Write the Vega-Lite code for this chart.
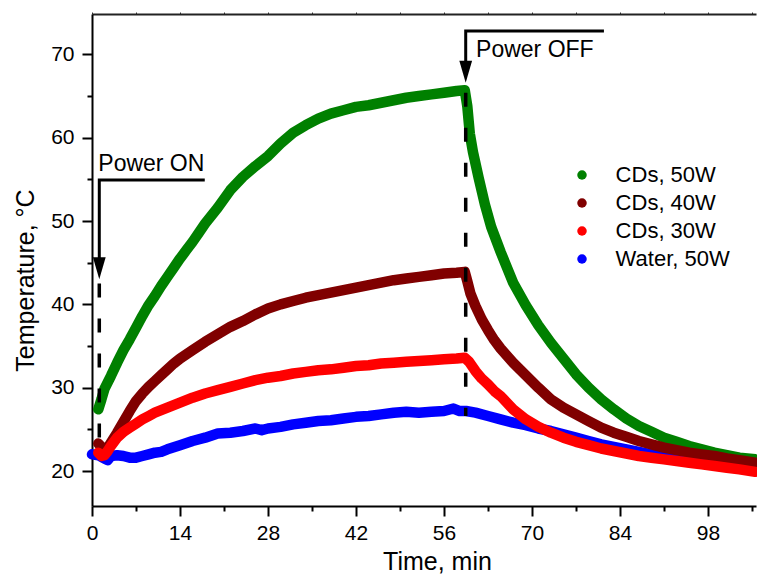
{
  "$schema": "https://vega.github.io/schema/vega-lite/v6.json",
  "width": 664,
  "height": 492,
  "autosize": {"type": "none"},
  "padding": {"left": 92, "top": 14, "right": 1, "bottom": 68},
  "config": {
    "view": {"stroke": null},
    "font": "Liberation Sans",
    "axis": {"grid": false, "labelFont": "Liberation Sans", "labelFontSize": 21, "titleFont": "Liberation Sans"},
    "legend": {"labelFont": "Liberation Sans", "labelFontSize": 22}
  },
  "datasets": {
    "series": [
      {"s": "Water, 50W", "time": 0, "temp": 22.0}, {"s": "Water, 50W", "time": 1, "temp": 21.9}, {"s": "Water, 50W", "time": 2, "temp": 21.5}, {"s": "Water, 50W", "time": 2.5, "temp": 21.3}, {"s": "Water, 50W", "time": 3, "temp": 21.8}, {"s": "Water, 50W", "time": 4, "temp": 21.9}, {"s": "Water, 50W", "time": 5, "temp": 21.8}, {"s": "Water, 50W", "time": 6, "temp": 21.6}, {"s": "Water, 50W", "time": 7, "temp": 21.6}, {"s": "Water, 50W", "time": 8, "temp": 21.8}, {"s": "Water, 50W", "time": 9, "temp": 22.0}, {"s": "Water, 50W", "time": 10, "temp": 22.2}, {"s": "Water, 50W", "time": 11, "temp": 22.3}, {"s": "Water, 50W", "time": 12, "temp": 22.6}, {"s": "Water, 50W", "time": 14, "temp": 23.1}, {"s": "Water, 50W", "time": 16, "temp": 23.6}, {"s": "Water, 50W", "time": 18, "temp": 24.0}, {"s": "Water, 50W", "time": 20, "temp": 24.5}, {"s": "Water, 50W", "time": 22, "temp": 24.6}, {"s": "Water, 50W", "time": 24, "temp": 24.8}, {"s": "Water, 50W", "time": 26, "temp": 25.1}, {"s": "Water, 50W", "time": 27, "temp": 24.9}, {"s": "Water, 50W", "time": 28, "temp": 25.1}, {"s": "Water, 50W", "time": 30, "temp": 25.3}, {"s": "Water, 50W", "time": 32, "temp": 25.6}, {"s": "Water, 50W", "time": 34, "temp": 25.8}, {"s": "Water, 50W", "time": 36, "temp": 26.0}, {"s": "Water, 50W", "time": 38, "temp": 26.1}, {"s": "Water, 50W", "time": 40, "temp": 26.3}, {"s": "Water, 50W", "time": 42, "temp": 26.5}, {"s": "Water, 50W", "time": 44, "temp": 26.6}, {"s": "Water, 50W", "time": 46, "temp": 26.8}, {"s": "Water, 50W", "time": 48, "temp": 27.0}, {"s": "Water, 50W", "time": 50, "temp": 27.1}, {"s": "Water, 50W", "time": 52, "temp": 27.0}, {"s": "Water, 50W", "time": 54, "temp": 27.1}, {"s": "Water, 50W", "time": 56, "temp": 27.2}, {"s": "Water, 50W", "time": 57.5, "temp": 27.5}, {"s": "Water, 50W", "time": 58.5, "temp": 27.2}, {"s": "Water, 50W", "time": 59.5, "temp": 27.2}, {"s": "Water, 50W", "time": 61, "temp": 27.0}, {"s": "Water, 50W", "time": 63, "temp": 26.6}, {"s": "Water, 50W", "time": 65, "temp": 26.2}, {"s": "Water, 50W", "time": 67, "temp": 25.8}, {"s": "Water, 50W", "time": 69, "temp": 25.5}, {"s": "Water, 50W", "time": 71, "temp": 25.1}, {"s": "Water, 50W", "time": 73, "temp": 24.8}, {"s": "Water, 50W", "time": 75, "temp": 24.4}, {"s": "Water, 50W", "time": 77, "temp": 24.0}, {"s": "Water, 50W", "time": 79, "temp": 23.6}, {"s": "Water, 50W", "time": 81, "temp": 23.2}, {"s": "Water, 50W", "time": 83, "temp": 22.9}, {"s": "Water, 50W", "time": 85, "temp": 22.6}, {"s": "Water, 50W", "time": 87, "temp": 22.3}, {"s": "Water, 50W", "time": 89, "temp": 22.0}, {"s": "Water, 50W", "time": 91, "temp": 21.8}, {"s": "Water, 50W", "time": 93, "temp": 21.7}, {"s": "Water, 50W", "time": 95, "temp": 21.6}, {"s": "Water, 50W", "time": 97, "temp": 21.4}, {"s": "Water, 50W", "time": 99, "temp": 21.2}, {"s": "Water, 50W", "time": 101, "temp": 21.0}, {"s": "Water, 50W", "time": 103, "temp": 20.9}, {"s": "Water, 50W", "time": 105.5, "temp": 20.7},

      {"s": "CDs, 50W", "time": 1, "temp": 27.4}, {"s": "CDs, 50W", "time": 1.5, "temp": 28.6}, {"s": "CDs, 50W", "time": 2, "temp": 29.9}, {"s": "CDs, 50W", "time": 2.4, "temp": 30.5}, {"s": "CDs, 50W", "time": 3, "temp": 31.4}, {"s": "CDs, 50W", "time": 4, "temp": 33.0}, {"s": "CDs, 50W", "time": 5, "temp": 34.5}, {"s": "CDs, 50W", "time": 6, "temp": 35.8}, {"s": "CDs, 50W", "time": 7, "temp": 37.2}, {"s": "CDs, 50W", "time": 8, "temp": 38.6}, {"s": "CDs, 50W", "time": 9, "temp": 39.9}, {"s": "CDs, 50W", "time": 10, "temp": 41.0}, {"s": "CDs, 50W", "time": 11, "temp": 42.2}, {"s": "CDs, 50W", "time": 12, "temp": 43.3}, {"s": "CDs, 50W", "time": 13, "temp": 44.4}, {"s": "CDs, 50W", "time": 14, "temp": 45.5}, {"s": "CDs, 50W", "time": 15, "temp": 46.5}, {"s": "CDs, 50W", "time": 16, "temp": 47.5}, {"s": "CDs, 50W", "time": 17, "temp": 48.6}, {"s": "CDs, 50W", "time": 18, "temp": 49.7}, {"s": "CDs, 50W", "time": 20, "temp": 51.6}, {"s": "CDs, 50W", "time": 22, "temp": 53.7}, {"s": "CDs, 50W", "time": 24, "temp": 55.3}, {"s": "CDs, 50W", "time": 26, "temp": 56.6}, {"s": "CDs, 50W", "time": 28, "temp": 57.8}, {"s": "CDs, 50W", "time": 30, "temp": 59.3}, {"s": "CDs, 50W", "time": 32, "temp": 60.6}, {"s": "CDs, 50W", "time": 34, "temp": 61.5}, {"s": "CDs, 50W", "time": 36, "temp": 62.3}, {"s": "CDs, 50W", "time": 38, "temp": 62.9}, {"s": "CDs, 50W", "time": 40, "temp": 63.3}, {"s": "CDs, 50W", "time": 42, "temp": 63.7}, {"s": "CDs, 50W", "time": 44, "temp": 63.9}, {"s": "CDs, 50W", "time": 46, "temp": 64.2}, {"s": "CDs, 50W", "time": 48, "temp": 64.5}, {"s": "CDs, 50W", "time": 50, "temp": 64.8}, {"s": "CDs, 50W", "time": 52, "temp": 65.0}, {"s": "CDs, 50W", "time": 54, "temp": 65.2}, {"s": "CDs, 50W", "time": 56, "temp": 65.4}, {"s": "CDs, 50W", "time": 58, "temp": 65.6}, {"s": "CDs, 50W", "time": 59.3, "temp": 65.7}, {"s": "CDs, 50W", "time": 59.7, "temp": 63.8}, {"s": "CDs, 50W", "time": 60.1, "temp": 60.5}, {"s": "CDs, 50W", "time": 60.6, "temp": 58.3}, {"s": "CDs, 50W", "time": 61.5, "temp": 55.2}, {"s": "CDs, 50W", "time": 62.5, "temp": 52.0}, {"s": "CDs, 50W", "time": 63.5, "temp": 49.3}, {"s": "CDs, 50W", "time": 65, "temp": 46.3}, {"s": "CDs, 50W", "time": 67, "temp": 42.6}, {"s": "CDs, 50W", "time": 69, "temp": 39.9}, {"s": "CDs, 50W", "time": 71, "temp": 37.5}, {"s": "CDs, 50W", "time": 73, "temp": 35.4}, {"s": "CDs, 50W", "time": 75, "temp": 33.5}, {"s": "CDs, 50W", "time": 77, "temp": 31.6}, {"s": "CDs, 50W", "time": 79, "temp": 30.0}, {"s": "CDs, 50W", "time": 81, "temp": 28.6}, {"s": "CDs, 50W", "time": 83, "temp": 27.4}, {"s": "CDs, 50W", "time": 85, "temp": 26.3}, {"s": "CDs, 50W", "time": 87, "temp": 25.4}, {"s": "CDs, 50W", "time": 89, "temp": 24.7}, {"s": "CDs, 50W", "time": 91, "temp": 24.0}, {"s": "CDs, 50W", "time": 93, "temp": 23.5}, {"s": "CDs, 50W", "time": 95, "temp": 23.0}, {"s": "CDs, 50W", "time": 97, "temp": 22.6}, {"s": "CDs, 50W", "time": 99, "temp": 22.2}, {"s": "CDs, 50W", "time": 101, "temp": 21.9}, {"s": "CDs, 50W", "time": 103, "temp": 21.6}, {"s": "CDs, 50W", "time": 105.5, "temp": 21.4},

      {"s": "CDs, 40W", "time": 1, "temp": 23.3}, {"s": "CDs, 40W", "time": 1.5, "temp": 22.9}, {"s": "CDs, 40W", "time": 2, "temp": 22.7}, {"s": "CDs, 40W", "time": 2.5, "temp": 22.8}, {"s": "CDs, 40W", "time": 3, "temp": 23.4}, {"s": "CDs, 40W", "time": 4, "temp": 24.6}, {"s": "CDs, 40W", "time": 5, "temp": 25.9}, {"s": "CDs, 40W", "time": 6, "temp": 27.2}, {"s": "CDs, 40W", "time": 7, "temp": 28.4}, {"s": "CDs, 40W", "time": 8, "temp": 29.3}, {"s": "CDs, 40W", "time": 9, "temp": 30.1}, {"s": "CDs, 40W", "time": 10, "temp": 30.8}, {"s": "CDs, 40W", "time": 11, "temp": 31.5}, {"s": "CDs, 40W", "time": 12, "temp": 32.2}, {"s": "CDs, 40W", "time": 13, "temp": 32.9}, {"s": "CDs, 40W", "time": 14, "temp": 33.5}, {"s": "CDs, 40W", "time": 16, "temp": 34.5}, {"s": "CDs, 40W", "time": 18, "temp": 35.5}, {"s": "CDs, 40W", "time": 20, "temp": 36.4}, {"s": "CDs, 40W", "time": 22, "temp": 37.3}, {"s": "CDs, 40W", "time": 24, "temp": 38.0}, {"s": "CDs, 40W", "time": 26, "temp": 38.8}, {"s": "CDs, 40W", "time": 28, "temp": 39.5}, {"s": "CDs, 40W", "time": 30, "temp": 40.0}, {"s": "CDs, 40W", "time": 32, "temp": 40.4}, {"s": "CDs, 40W", "time": 34, "temp": 40.8}, {"s": "CDs, 40W", "time": 36, "temp": 41.1}, {"s": "CDs, 40W", "time": 38, "temp": 41.4}, {"s": "CDs, 40W", "time": 40, "temp": 41.7}, {"s": "CDs, 40W", "time": 42, "temp": 42.0}, {"s": "CDs, 40W", "time": 44, "temp": 42.3}, {"s": "CDs, 40W", "time": 46, "temp": 42.6}, {"s": "CDs, 40W", "time": 48, "temp": 42.9}, {"s": "CDs, 40W", "time": 50, "temp": 43.1}, {"s": "CDs, 40W", "time": 52, "temp": 43.3}, {"s": "CDs, 40W", "time": 54, "temp": 43.5}, {"s": "CDs, 40W", "time": 56, "temp": 43.7}, {"s": "CDs, 40W", "time": 58, "temp": 43.8}, {"s": "CDs, 40W", "time": 59.3, "temp": 43.9}, {"s": "CDs, 40W", "time": 59.7, "temp": 42.8}, {"s": "CDs, 40W", "time": 60.2, "temp": 41.3}, {"s": "CDs, 40W", "time": 61, "temp": 39.8}, {"s": "CDs, 40W", "time": 62, "temp": 38.2}, {"s": "CDs, 40W", "time": 63, "temp": 36.9}, {"s": "CDs, 40W", "time": 64, "temp": 35.7}, {"s": "CDs, 40W", "time": 65, "temp": 34.7}, {"s": "CDs, 40W", "time": 67, "temp": 33.0}, {"s": "CDs, 40W", "time": 69, "temp": 31.5}, {"s": "CDs, 40W", "time": 71, "temp": 30.0}, {"s": "CDs, 40W", "time": 73, "temp": 28.6}, {"s": "CDs, 40W", "time": 75, "temp": 27.6}, {"s": "CDs, 40W", "time": 77, "temp": 26.8}, {"s": "CDs, 40W", "time": 79, "temp": 26.0}, {"s": "CDs, 40W", "time": 81, "temp": 25.2}, {"s": "CDs, 40W", "time": 83, "temp": 24.6}, {"s": "CDs, 40W", "time": 85, "temp": 24.1}, {"s": "CDs, 40W", "time": 87, "temp": 23.6}, {"s": "CDs, 40W", "time": 89, "temp": 23.2}, {"s": "CDs, 40W", "time": 91, "temp": 22.8}, {"s": "CDs, 40W", "time": 93, "temp": 22.5}, {"s": "CDs, 40W", "time": 95, "temp": 22.2}, {"s": "CDs, 40W", "time": 97, "temp": 22.0}, {"s": "CDs, 40W", "time": 99, "temp": 21.8}, {"s": "CDs, 40W", "time": 101, "temp": 21.5}, {"s": "CDs, 40W", "time": 103, "temp": 21.3}, {"s": "CDs, 40W", "time": 105.5, "temp": 21.0},

      {"s": "CDs, 30W", "time": 1, "temp": 22.2}, {"s": "CDs, 30W", "time": 1.5, "temp": 21.8}, {"s": "CDs, 30W", "time": 2, "temp": 21.9}, {"s": "CDs, 30W", "time": 2.5, "temp": 22.4}, {"s": "CDs, 30W", "time": 3, "temp": 23.0}, {"s": "CDs, 30W", "time": 4, "temp": 24.0}, {"s": "CDs, 30W", "time": 5, "temp": 24.7}, {"s": "CDs, 30W", "time": 6, "temp": 25.2}, {"s": "CDs, 30W", "time": 7, "temp": 25.7}, {"s": "CDs, 30W", "time": 8, "temp": 26.2}, {"s": "CDs, 30W", "time": 9, "temp": 26.6}, {"s": "CDs, 30W", "time": 10, "temp": 27.0}, {"s": "CDs, 30W", "time": 12, "temp": 27.6}, {"s": "CDs, 30W", "time": 14, "temp": 28.2}, {"s": "CDs, 30W", "time": 16, "temp": 28.8}, {"s": "CDs, 30W", "time": 18, "temp": 29.3}, {"s": "CDs, 30W", "time": 20, "temp": 29.7}, {"s": "CDs, 30W", "time": 22, "temp": 30.1}, {"s": "CDs, 30W", "time": 24, "temp": 30.5}, {"s": "CDs, 30W", "time": 26, "temp": 30.9}, {"s": "CDs, 30W", "time": 28, "temp": 31.2}, {"s": "CDs, 30W", "time": 30, "temp": 31.4}, {"s": "CDs, 30W", "time": 32, "temp": 31.7}, {"s": "CDs, 30W", "time": 34, "temp": 31.9}, {"s": "CDs, 30W", "time": 36, "temp": 32.1}, {"s": "CDs, 30W", "time": 38, "temp": 32.2}, {"s": "CDs, 30W", "time": 40, "temp": 32.4}, {"s": "CDs, 30W", "time": 42, "temp": 32.6}, {"s": "CDs, 30W", "time": 44, "temp": 32.7}, {"s": "CDs, 30W", "time": 46, "temp": 32.9}, {"s": "CDs, 30W", "time": 48, "temp": 33.0}, {"s": "CDs, 30W", "time": 50, "temp": 33.1}, {"s": "CDs, 30W", "time": 52, "temp": 33.2}, {"s": "CDs, 30W", "time": 54, "temp": 33.3}, {"s": "CDs, 30W", "time": 56, "temp": 33.4}, {"s": "CDs, 30W", "time": 58, "temp": 33.5}, {"s": "CDs, 30W", "time": 59.3, "temp": 33.6}, {"s": "CDs, 30W", "time": 60, "temp": 33.1}, {"s": "CDs, 30W", "time": 61, "temp": 32.0}, {"s": "CDs, 30W", "time": 62, "temp": 31.1}, {"s": "CDs, 30W", "time": 63, "temp": 30.4}, {"s": "CDs, 30W", "time": 64, "temp": 29.6}, {"s": "CDs, 30W", "time": 65, "temp": 29.0}, {"s": "CDs, 30W", "time": 67, "temp": 27.4}, {"s": "CDs, 30W", "time": 69, "temp": 26.2}, {"s": "CDs, 30W", "time": 71, "temp": 25.3}, {"s": "CDs, 30W", "time": 73, "temp": 24.6}, {"s": "CDs, 30W", "time": 75, "temp": 24.0}, {"s": "CDs, 30W", "time": 77, "temp": 23.5}, {"s": "CDs, 30W", "time": 79, "temp": 23.1}, {"s": "CDs, 30W", "time": 81, "temp": 22.7}, {"s": "CDs, 30W", "time": 83, "temp": 22.4}, {"s": "CDs, 30W", "time": 85, "temp": 22.1}, {"s": "CDs, 30W", "time": 87, "temp": 21.8}, {"s": "CDs, 30W", "time": 89, "temp": 21.6}, {"s": "CDs, 30W", "time": 91, "temp": 21.4}, {"s": "CDs, 30W", "time": 93, "temp": 21.2}, {"s": "CDs, 30W", "time": 95, "temp": 21.0}, {"s": "CDs, 30W", "time": 97, "temp": 20.8}, {"s": "CDs, 30W", "time": 99, "temp": 20.6}, {"s": "CDs, 30W", "time": 101, "temp": 20.4}, {"s": "CDs, 30W", "time": 103, "temp": 20.2}, {"s": "CDs, 30W", "time": 105.5, "temp": 19.9}
    ],
    "shafts": [
      {"g": "on", "o": 0, "time": 17.7, "temp": 54.92}, {"g": "on", "o": 1, "time": 1.16, "temp": 54.92}, {"g": "on", "o": 2, "time": 1.16, "temp": 45.6},
      {"g": "off", "o": 0, "time": 81.2, "temp": 72.8}, {"g": "off", "o": 1, "time": 59.45, "temp": 72.8}, {"g": "off", "o": 2, "time": 59.45, "temp": 69.2}
    ],
    "dashes": [
      {"time": 1.16, "temp": 42.5, "temp2": 22.6},
      {"time": 59.45, "temp": 65.4, "temp2": 26.6}
    ],
    "heads": [
      {"time": 1.16, "temp": 43.0},
      {"time": 59.45, "temp": 66.6}
    ],
    "labels": [
      {"time": 1.0, "temp": 56.0, "label": "Power ON"},
      {"time": 61.1, "temp": 69.73, "label": "Power OFF"}
    ]
  },
  "resolve": {"axis": {"x": "independent", "y": "independent"}},
  "layer": [
    {
      "data": {"name": "series"},
      "mark": {"type": "line", "strokeWidth": 10.5, "strokeCap": "round", "strokeJoin": "round"},
      "encoding": {
        "x": {
          "field": "time", "type": "quantitative",
          "scale": {"domain": [0, 105.63], "nice": false, "zero": false},
          "axis": {
            "orient": "bottom",
            "values": [0, 7, 14, 21, 28, 35, 42, 49, 56, 63, 70, 77, 84, 91, 98, 105],
            "labelExpr": "datum.value % 14 === 0 ? datum.label : ''",
            "tickSize": {"condition": {"test": "datum.value % 14 !== 0", "value": 5}, "value": 10},
            "tickWidth": 2, "tickColor": "black",
            "domainColor": "black", "domainWidth": 2,
            "labelFontSize": 21, "labelColor": "black", "labelFont": "Liberation Sans",
            "labelPadding": 6, "labelFlush": false, "labelOverlap": false,
            "title": "Time, min", "titleFontSize": 25, "titleFontWeight": "normal", "titleColor": "black",
            "titleFont": "Liberation Sans",
            "titleX": 345, "titleY": 63, "titleAlign": "center", "titleBaseline": "alphabetic"
          }
        },
        "y": {
          "field": "temp", "type": "quantitative",
          "scale": {"domain": [15.8, 74.85], "nice": false, "zero": false},
          "axis": {
            "orient": "left",
            "values": [20, 25, 30, 35, 40, 45, 50, 55, 60, 65, 70],
            "labelExpr": "datum.value % 10 === 0 ? datum.label : ''",
            "tickSize": {"condition": {"test": "datum.value % 10 !== 0", "value": 5}, "value": 10},
            "tickWidth": 2, "tickColor": "black",
            "domainColor": "black", "domainWidth": 2,
            "labelFontSize": 21, "labelColor": "black", "labelFont": "Liberation Sans",
            "labelPadding": 8, "labelFlush": false, "labelOverlap": false,
            "title": "Temperature, °C", "titleFontSize": 25, "titleFontWeight": "normal", "titleColor": "black",
            "titleFont": "Liberation Sans", "titleAngle": 270,
            "titleX": -58.7, "titleY": 266, "titleAlign": "center", "titleBaseline": "alphabetic"
          }
        },
        "color": {
          "field": "s", "type": "nominal",
          "scale": {"domain": ["CDs, 50W", "CDs, 40W", "CDs, 30W", "Water, 50W"], "range": ["#008000", "#800000", "#ff0000", "#0000ff"]},
          "legend": {
            "orient": "none", "legendX": 479, "legendY": 150, "title": null,
            "labelFontSize": 22, "labelColor": "black", "labelFont": "Liberation Sans",
            "symbolType": "circle", "symbolSize": 90, "symbolStrokeWidth": 0,
            "labelOffset": 22.6, "rowPadding": 6, "padding": 0, "labelLimit": 300,
            "encode": {"symbols": {"update": {"fill": {"scale": "color", "field": "value"}, "opacity": {"value": 1}}}}
          }
        }
      }
    },
    {
      "data": {"name": "shafts"},
      "mark": {"type": "line", "color": "black", "strokeWidth": 3, "strokeCap": "square", "strokeJoin": "miter"},
      "encoding": {
        "x": {"field": "time", "type": "quantitative", "scale": {"domain": [0, 105.63], "nice": false, "zero": false}, "axis": null},
        "y": {"field": "temp", "type": "quantitative", "scale": {"domain": [15.8, 74.85], "nice": false, "zero": false}, "axis": null},
        "detail": {"field": "g", "type": "nominal"},
        "order": {"field": "o", "type": "quantitative"}
      }
    },
    {
      "data": {"name": "dashes"},
      "mark": {"type": "rule", "color": "black", "strokeWidth": 3.5, "strokeDash": [14, 21]},
      "encoding": {
        "x": {"field": "time", "type": "quantitative", "scale": {"domain": [0, 105.63], "nice": false, "zero": false}, "axis": null},
        "y": {"field": "temp", "type": "quantitative", "scale": {"domain": [15.8, 74.85], "nice": false, "zero": false}, "axis": null},
        "y2": {"field": "temp2"}
      }
    },
    {
      "data": {"name": "heads"},
      "mark": {"type": "point", "shape": "M-0.58,-2L0.58,-2L0,0Z", "size": 484, "filled": true, "color": "black", "opacity": 1, "strokeWidth": 0},
      "encoding": {
        "x": {"field": "time", "type": "quantitative", "scale": {"domain": [0, 105.63], "nice": false, "zero": false}, "axis": null},
        "y": {"field": "temp", "type": "quantitative", "scale": {"domain": [15.8, 74.85], "nice": false, "zero": false}, "axis": null}
      }
    },
    {
      "data": {"name": "labels"},
      "mark": {"type": "text", "align": "left", "baseline": "alphabetic", "fontSize": 23, "font": "Liberation Sans", "color": "black"},
      "encoding": {
        "x": {
          "field": "time", "type": "quantitative", "scale": {"domain": [0, 105.63], "nice": false, "zero": false},
          "axis": {
            "orient": "top", "values": [0, 7, 14, 21, 28, 35, 42, 49, 56, 63, 70, 77, 84, 91, 98, 105],
            "labels": false, "tickSize": 2, "tickWidth": 1, "tickColor": "#333333",
            "domainColor": "#222222", "domainWidth": 2, "title": null
          }
        },
        "y": {"field": "temp", "type": "quantitative", "scale": {"domain": [15.8, 74.85], "nice": false, "zero": false}, "axis": null},
        "text": {"field": "label", "type": "nominal"}
      }
    }
  ]
}
